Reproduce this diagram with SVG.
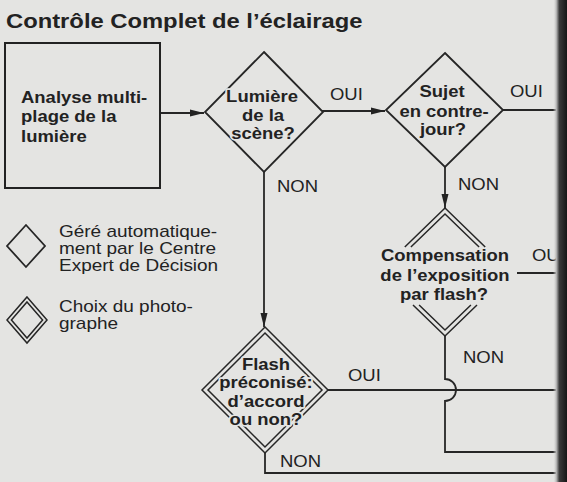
<svg xmlns="http://www.w3.org/2000/svg" width="567" height="482" viewBox="0 0 567 482">
<defs>
<style>
.t{font-family:"Liberation Sans",Arial,Helvetica,sans-serif;fill:#222;}
.b{font-weight:bold;font-size:16.5px;}
.r{font-size:16.8px;}
.m{text-anchor:middle;}
.h{stroke:#e4e4e2;stroke-width:3.5;stroke-linejoin:round;paint-order:stroke fill;}
.ln{fill:none;stroke:#262626;stroke-width:1.8;}
.dd{fill:none;stroke:#262626;stroke-width:1.5;}
</style>
<marker id="ah" markerWidth="14" markerHeight="8" refX="14" refY="4" orient="auto" markerUnits="userSpaceOnUse">
<path d="M0,0.5 L14,4 L0,7.5 Z" fill="#222"/>
</marker>
<linearGradient id="edge" x1="0" y1="0" x2="1" y2="0">
<stop offset="0" stop-color="#e4e4e2" stop-opacity="0"/>
<stop offset="0.25" stop-color="#b0b0b0"/>
<stop offset="0.45" stop-color="#3a3a3a"/>
<stop offset="1" stop-color="#161616"/>
</linearGradient>
</defs>
<rect x="0" y="0" width="567" height="482" fill="#e4e4e2"/>

<text class="t" font-weight="bold" font-size="20.5" transform="translate(6,28) scale(1.16,1)">Contrôle Complet de l’éclairage</text>

<g id="connectors">
<path class="ln" d="M160,113 H204" marker-end="url(#ah)"/>
<path class="ln" d="M322,111 H385" marker-end="url(#ah)"/>
<path class="ln" d="M264,172 V327" marker-end="url(#ah)"/>
<path class="ln" d="M445,167 V208" marker-end="url(#ah)"/>
<path class="ln" d="M503,110 H563"/>
<path class="ln" d="M517,273 H563"/>
<path class="ln" d="M328,390 H563"/>
<path class="ln" d="M445,336 V379 A11,11 0 0 1 445,401 V452 H563"/>
<path class="ln" d="M265,453 V473 H563"/>
<text class="t r" transform="translate(330,100) scale(1.1,1)">OUI</text>
<text class="t r" transform="translate(510,97) scale(1.1,1)">OUI</text>
<text class="t r" transform="translate(277,192) scale(1.1,1)">NON</text>
<text class="t r" transform="translate(458,190) scale(1.1,1)">NON</text>
<text class="t r" transform="translate(532,261) scale(1.1,1)">OUI</text>
<text class="t r" transform="translate(463,363) scale(1.1,1)">NON</text>
<text class="t r" transform="translate(348,381) scale(1.1,1)">OUI</text>
<text class="t r" transform="translate(280,467) scale(1.1,1)">NON</text>
</g>

<g id="analyse">
<rect x="5" y="43" width="155" height="145" fill="none" stroke="#222" stroke-width="2"/>
<text class="t b" transform="translate(21,103) scale(1.12,1)">Analyse multi-</text>
<text class="t b" transform="translate(21,122) scale(1.12,1)">plage de la</text>
<text class="t b" transform="translate(21,142) scale(1.12,1)">lumière</text>
</g>

<g id="lumiere">
<path class="ln" d="M264,52 L323,112 L264,172 L205,112 Z"/>
<text class="t b m h" transform="translate(262,102) scale(1.12,1)">Lumière</text>
<text class="t b m h" transform="translate(263,121) scale(1.12,1)">de la</text>
<text class="t b m h" transform="translate(263,139) scale(1.12,1)">scène?</text>
</g>

<g id="sujet">
<path class="ln" d="M445,53 L503,110 L445,167 L386,110 Z"/>
<text class="t b m h" transform="translate(442,97) scale(1.12,1)">Sujet</text>
<text class="t b m h" transform="translate(444,117) scale(1.12,1)">en contre-</text>
<text class="t b m h" transform="translate(443,135) scale(1.12,1)">jour?</text>
</g>

<g id="compensation">
<path class="dd" d="M404.8,247 L445,208 L485.2,247"/>
<path class="dd" d="M410.9,247 L445,214 L479.1,247"/>
<path class="dd" d="M413,305 L445,336 L477,305"/>
<path class="dd" d="M419.1,305 L445,330 L470.9,305"/>
<text class="t b m" transform="translate(445,261) scale(1.12,1)">Compensation</text>
<text class="t b m" transform="translate(445,281) scale(1.12,1)">de l’exposition</text>
<text class="t b m" transform="translate(444,300) scale(1.12,1)">par flash?</text>
</g>

<g id="flash">
<path class="dd" d="M265,327 L328,390 L265,453 L202,390 Z"/>
<path class="dd" d="M265,333 L322,390 L265,447 L208,390 Z"/>
<text class="t b m h" transform="translate(266,370) scale(1.12,1)">Flash</text>
<text class="t b m h" transform="translate(266,388) scale(1.12,1)">préconisé:</text>
<text class="t b m h" transform="translate(266,407) scale(1.12,1)">d’accord</text>
<text class="t b m h" transform="translate(266,425) scale(1.12,1)">ou non?</text>
</g>

<g id="legende-auto">
<path class="ln" d="M26,225 L45,246 L26,267 L7,246 Z"/>
<text class="t r" transform="translate(59,237) scale(1.13,1)">Géré automatique-</text>
<text class="t r" transform="translate(59,254) scale(1.13,1)">ment par le Centre</text>
<text class="t r" transform="translate(59,271) scale(1.13,1)">Expert de Décision</text>
</g>

<g id="legende-photographe">
<path class="dd" d="M27,297 L47,320 L27,343 L7,320 Z"/>
<path class="dd" d="M27,302 L42.6,320 L27,338 L11.4,320 Z"/>
<text class="t r" transform="translate(59,312) scale(1.13,1)">Choix du photo-</text>
<text class="t r" transform="translate(59,329) scale(1.13,1)">graphe</text>
</g>

<rect x="553" y="0" width="14" height="482" fill="url(#edge)"/>
</svg>
